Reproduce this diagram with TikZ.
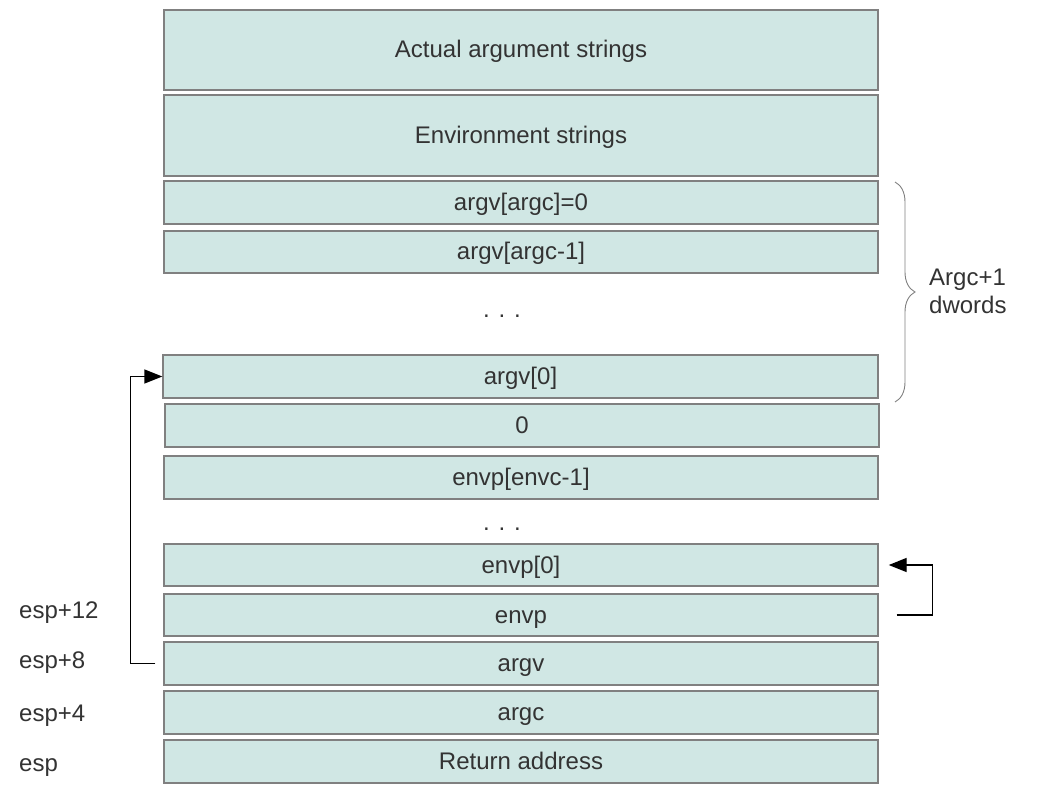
\documentclass[tikz,border=0pt]{standalone}
\usepackage{fontspec}
\setmainfont{Liberation Sans}
\usetikzlibrary{arrows.meta,decorations.pathreplacing}
\definecolor{cellfill}{HTML}{D0E7E4}
\definecolor{celledge}{HTML}{808080}
\definecolor{ink}{HTML}{333333}
\tikzset{
  cell/.style={draw=celledge, fill=cellfill, line width=1.4pt, rectangle,
    inner sep=0pt, text=ink, font=\fontsize{24}{28}\selectfont,
    text height=16pt, text depth=0pt},
  lbl/.style={text=ink, font=\fontsize{24}{28}\selectfont, inner sep=0pt},
  link/.style={draw=black, line width=1.4pt, -{Triangle[length=18pt,width=14pt]}},
}
% Draw one stack cell from its top-left and bottom-right corners (in px)
\newcommand{\stackcell}[6]{%
  \node[cell, minimum width=#4-#2, minimum height=#5-#3]
    (#1) at ({(#2+#4)/2},{(#3+#5)/2}) {#6};}
\begin{document}
\begin{tikzpicture}[x=1pt,y=-1pt]
\useasboundingbox (0,0) rectangle (1058,794);

\stackcell{argstr}{164}{10}{878}{90}{Actual argument strings}
\stackcell{envstr}{164}{95}{878}{176}{Environment strings}
\stackcell{argvn}{164}{181}{878}{224}{argv[argc]=0}
\stackcell{argvlast}{164}{231}{878}{273}{argv[argc-1]}
\node[lbl, anchor=base] (dotsa) at (502,318) {. . .};
\stackcell{argvzero}{163}{355}{878}{398}{argv[0]}
\stackcell{nullp}{165}{404}{879}{447}{0}
\stackcell{envplast}{164}{456}{878}{499}{envp[envc-1]}
\node[lbl, anchor=base] (dotsb) at (502,530) {. . .};
\stackcell{envpzero}{164}{544}{878}{586}{envp[0]}
\stackcell{envpp}{164}{594}{878}{636}{envp}
\stackcell{argvp}{164}{642}{878}{685}{argv}
\stackcell{argcc}{164}{691}{878}{734}{argc}
\stackcell{retaddr}{164}{740}{878}{783}{Return address}

% stack offsets
\tikzset{offset/.style={lbl, anchor=base west}}
\node[offset] (off12) at (19,618) {esp+12};
\node[offset] (off8) at (19,668) {esp+8};
\node[offset] (off4) at (19,721) {esp+4};
\node[offset] (off0) at (19,771) {esp};

% pointer links
\draw[link] ([xshift=-8]argvp.west) -- ++(-25,0) |- (argvzero.west);
\draw[link] ([xshift=18]envpp.east) -- ++(36,0) |- ([xshift=10]envpzero.east);

% brace over the argv array
\coordinate (bracetop) at (895,182);
\coordinate (bracebot) at (895,402);
\draw[celledge, line width=0.9pt, decorate,
  decoration={brace, amplitude=20pt, raise=0pt}]
  (bracetop) -- (bracebot);
\node[lbl, anchor=west, align=left] (bracelbl) at (929,291)
  {Argc+1\\dwords};
\end{tikzpicture}
\end{document}
